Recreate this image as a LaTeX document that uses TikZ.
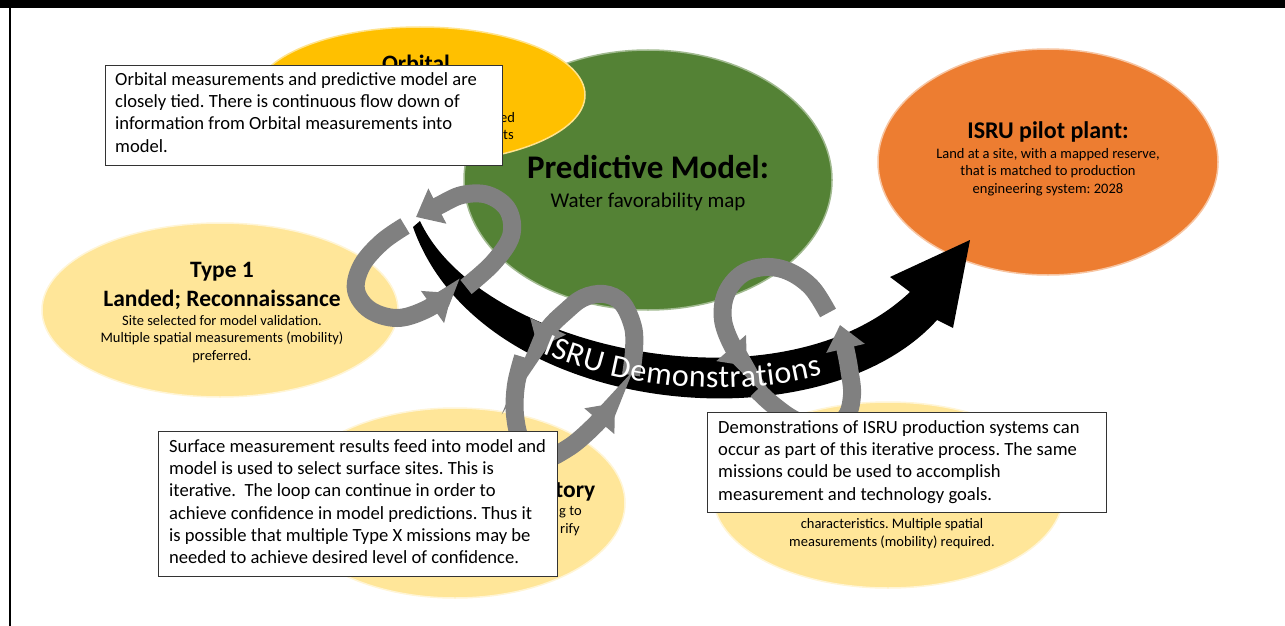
\documentclass[tikz,border=0pt]{standalone}
\usepackage{fontspec}
\setmainfont{Carlito}
\usetikzlibrary{shapes.geometric,positioning,arrows.meta,decorations.text}

\definecolor{orbgold}{RGB}{255,192,0}
\definecolor{modelgreen}{RGB}{84,130,53}
\definecolor{plantorange}{RGB}{237,125,49}
\definecolor{sitesand}{RGB}{255,230,153}
\definecolor{swirlgray}{RGB}{128,128,128}

\frenchspacing
\tikzset{
	blob/.style={ellipse, inner sep=0pt, line width=1.5pt},
	head/.style={font=\bfseries\fontsize{23.5}{29}\selectfont, align=center, inner sep=0pt},
	small/.style={font=\fontsize{14.5}{17.5}\selectfont, align=center, inner sep=0pt},
	notebox/.style={draw=black!80, fill=white, line width=1.2pt, anchor=north west, inner sep=0pt},
	notetext/.style={align=left, inner sep=0pt, font=\fontsize{18.6}{22.3}\selectfont},
	swirl/.style={draw=swirlgray, line width=18pt, -{Triangle[width=38pt,length=24pt]}},
}

\begin{document}
\begin{tikzpicture}[x=1pt,y=-1pt,node distance=10pt]
	\useasboundingbox (0,0) rectangle (1285,626);
	% frame
	\fill (0,0) rectangle (1285,8);
	\fill (8.5,8) rectangle (11,626);
	% mission ellipses
	\node[blob, fill=modelgreen, draw=modelgreen!55!white, minimum width=368pt, minimum height=260pt] (model) at (648,180) {};
	\node[blob, fill=orbgold, draw=orbgold!45!white, minimum width=330pt, minimum height=136pt] (orbit) at (420,95) {};
	\node[blob, fill=plantorange, draw=plantorange!45!white, minimum width=340pt, minimum height=226pt] (plant) at (1048,162) {};
	\node[blob, fill=sitesand, draw=sitesand!40!white, minimum width=356pt, minimum height=174pt] (type1) at (220,310) {};
	\node[blob, fill=sitesand, draw=sitesand!40!white, minimum width=340pt, minimum height=190pt] (explore) at (455,503) {};
	\node[blob, fill=sitesand, draw=sitesand!40!white, minimum width=350pt, minimum height=186pt] (prospect) at (888,495) {};
	% ellipse texts
	\node[head, anchor=base] (orbit_t) at (416,71) {Orbital};
	\node[small, anchor=base west] (orbit_a) at (500,122) {ed};
	\node[small, anchor=base west] (orbit_b) at (503,139) {ts};
	\node[font=\bfseries\fontsize{33}{38}\selectfont, anchor=base] (model_t) at (648,178) {Predictive Model:};
	\node[font=\fontsize{21}{24}\selectfont, anchor=base] (model_s) at (648,207) {Water favorability map};
	\node[head, font=\bfseries\fontsize{24}{29}\selectfont, anchor=base] (plant_t) at (1048,138) {ISRU pilot plant:};
	\node[small, anchor=base] (plant_s) at (1048,193) {Land at a site, with a mapped reserve,\\that is matched to production\\engineering system: 2028};
	\node[head, anchor=base] (type1_t) at (222,306) {Type 1\\Landed; Reconnaissance};
	\node[small, anchor=base] (type1_s) at (222,360) {Site selected for model validation.\\Multiple spatial measurements (mobility)\\preferred.};
	\node[head, anchor=base west] (explore_t) at (555,497) {tory};
	\node[small, anchor=base west] (explore_a) at (559,515) {g to};
	\node[small, anchor=base west] (explore_b) at (560,533) {rify};
	\node[small, anchor=base] (prospect_s) at (892,546) {characteristics. Multiple spatial\\measurements (mobility) required.};
	% main arrow
	\fill (420,221) .. controls (480,350) and (780,415) .. (910,292)
		-- (890,277) -- (970,240) -- (953,328) -- (937,320)
		.. controls (820,450) and (480,418) .. (413,227) -- cycle;
	% iteration loops
	\draw[swirl] plot[smooth, tension=0.6] coordinates {(466,287) (493,263) (511,236) (508,210) (488,195) (462,195) (438,206) (416,217)};
	\draw[swirl] plot[smooth, tension=0.6] coordinates {(405,226) (382,242) (362,265) (356,290) (370,310) (397,318) (425,310) (452,293)};
	\draw[swirl] plot[smooth, tension=0.6] coordinates {(631,375) (634,350) (633,327) (622,303) (604,294) (583,298) (565,312) (549,328) (538,348)};
	\draw[swirl] plot[smooth, tension=0.6] coordinates {(523,357) (516,385) (515,415) (522,443) (540,460) (568,448) (593,427) (615,403)};
	\draw[swirl] plot[smooth, tension=0.6] coordinates {(828,313) (812,288) (790,272) (766,267) (742,274) (726,294) (723,320) (733,347) (747,366)};
	\draw[swirl] plot[smooth, tension=0.6] coordinates {(757,390) (772,404) (795,420) (822,428) (845,418) (852,395) (849,368) (845,347) (840,325)};
	\path[decorate, decoration={text along path, text={|\fontsize{32}{32}\selectfont|ISRU Demonstrations}, text color=white, text align={left indent=180pt}, raise=-13pt}]
		(417,224) .. controls (480,380) and (800,428) .. (923,306);
	% notes
	\node[notebox, minimum width=397pt, minimum height=100pt] (orbit_box) at (105,65) {};
	\node[notetext, below right=7pt and 10pt of orbit_box.north west] (orbit_note) {Orbital measurements and predictive model are\\closely tied. There is continuous flow down of\\information from Orbital measurements into\\model.};
	\node[notebox, minimum width=399pt, minimum height=145pt] (loop_box) at (158,431) {};
	\node[notetext, below right=8pt and 11pt of loop_box.north west] (loop_note) {Surface measurement results feed into model and\\model is used to select surface sites. This is\\iterative.\ \ The loop can continue in order to\\achieve confidence in model predictions. Thus it\\is possible that multiple Type X missions may be\\needed to achieve desired level of confidence.};
	\node[notebox, minimum width=399pt, minimum height=100pt] (demo_box) at (707,412) {};
	\node[notetext, below right=8pt and 11pt of demo_box.north west] (demo_note) {Demonstrations of ISRU production systems can\\occur as part of this iterative process. The same\\missions could be used to accomplish\\measurement and technology goals.};
\end{tikzpicture}
\end{document}
